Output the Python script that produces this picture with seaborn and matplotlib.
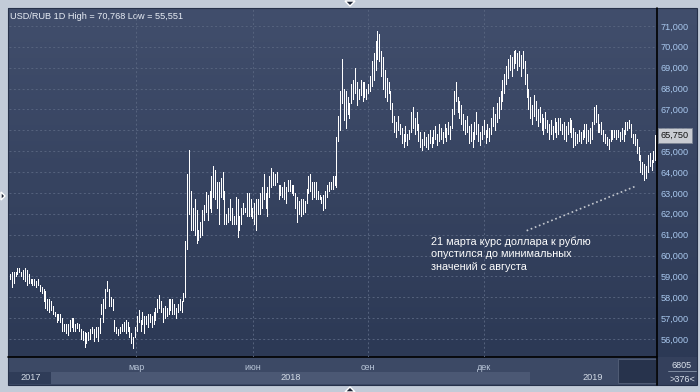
import numpy as np
import pandas as pd
import seaborn as sns
import matplotlib.pyplot as plt
from matplotlib.colors import LinearSegmentedColormap
from matplotlib.patches import Rectangle, Polygon
import matplotlib.transforms as mtransforms

# Daily USD/RUB bars (low / high), Dec 2017 - Apr 2019
lows = [
    58.9, 58.5, 58.7, 59.0, 59.1, 59.2, 59.0, 58.9, 58.8, 58.6,
    58.7, 58.7, 58.6, 58.6, 58.5, 58.6, 58.3, 58.2, 57.8, 57.5,
    57.4, 57.3, 57.4, 57.2, 57.1, 56.8, 56.9, 56.8, 56.4, 56.4,
    56.3, 56.2, 56.4, 56.6, 56.4, 56.4, 56.55, 56.4, 56.0, 55.95,
    55.6, 55.8, 55.95, 56.0, 56.3, 55.9, 56.1, 55.9, 56.3, 57.2,
    56.8, 57.5, 58.3, 57.6, 57.6, 57.4, 56.4, 56.3, 56.2, 56.3,
    56.4, 56.4, 56.3, 56.4, 56.1, 55.8, 55.551, 56.1, 56.4, 56.8,
    56.4, 56.7, 56.3, 56.7, 56.6, 56.8, 56.6, 56.7, 56.9, 57.3,
    57.5, 57.3, 56.8, 57.0, 57.1, 57.2, 57.4, 57.2, 57.2, 57.0,
    57.3, 57.4, 57.3, 57.8, 58.0, 60.3, 62.0, 61.2, 61.2, 61.0,
    60.6, 60.75, 60.9, 61.0, 61.7, 62.1, 61.7, 62.3, 62.1, 62.8,
    62.7, 62.3, 61.5, 62.8, 62.7, 61.5, 61.5, 61.6, 61.7, 61.5,
    61.5, 61.5, 60.9, 61.2, 61.5, 62.0, 62.1, 61.9, 61.9, 61.9,
    61.8, 61.5, 61.2, 62.0, 62.0, 62.3, 62.7, 62.3, 61.9, 62.8,
    63.3, 63.4, 63.4, 63.5, 62.7, 62.9, 62.8, 62.7, 62.5, 63.1,
    63.1, 63.0, 62.9, 62.3, 61.6, 62.0, 61.9, 62.0, 62.1, 62.5,
    63.0, 63.1, 62.7, 62.8, 62.7, 62.7, 62.7, 62.5, 62.2, 62.3,
    62.8, 63.1, 63.2, 63.2, 63.4, 63.3, 65.5, 66.0, 67.3, 66.5,
    66.1, 66.8, 66.6, 67.3, 67.5, 67.8, 67.2, 67.5, 67.7, 67.4,
    67.6, 67.5, 67.8, 67.9, 68.1, 68.4, 68.9, 69.4, 69.3, 68.6,
    68.0, 67.6, 67.4, 67.8, 67.0, 66.4, 65.9, 65.7, 66.0, 65.8,
    65.4, 65.2, 65.5, 65.3, 65.6, 65.9, 66.1, 65.8, 66.0, 65.5,
    65.2, 65.05, 65.3, 65.2, 65.1, 65.4, 65.2, 65.4, 65.6, 65.3,
    65.5, 65.6, 65.4, 65.7, 65.5, 65.8, 65.6, 66.1, 66.8, 67.4,
    66.9, 66.6, 66.3, 66.0, 65.8, 65.9, 65.4, 65.5, 65.2, 65.6,
    65.8, 65.5, 65.3, 65.6, 65.8, 65.4, 65.7, 65.5, 65.8, 66.2,
    66.0, 66.4, 66.6, 67.0, 67.4, 67.8, 68.2, 68.5, 68.9, 68.6,
    69.0, 69.2, 68.9, 69.1, 68.6, 69.0, 68.2, 67.6, 67.0, 66.6,
    66.3, 66.7, 66.5, 66.2, 66.4, 66.0, 65.8, 66.1, 65.9, 65.6,
    65.8, 65.6, 65.9, 65.7, 65.8, 66.0, 65.8, 65.6, 65.5, 65.8,
    65.9, 65.7, 65.2, 65.3, 65.4, 65.5, 65.4, 65.6, 65.7, 65.4,
    65.5, 65.4, 65.6, 66.3, 66.4, 65.9, 65.9, 65.8, 65.5, 65.4,
    65.3, 65.1, 65.5, 65.6, 65.7, 65.6, 65.7, 65.5, 65.6, 65.5,
    65.8, 66.0, 66.1, 65.7, 65.4, 65.3, 64.9, 64.6, 64.0, 63.9,
    63.6, 63.7, 64.0, 64.3, 64.1, 64.5, 64.6,
]
highs = [
    59.1, 59.2, 59.2, 59.2, 59.4, 59.4, 59.2, 59.3, 59.4, 59.3,
    59.1, 58.9, 58.9, 58.9, 58.8, 58.9, 58.6, 58.5, 58.4, 58.3,
    57.9, 57.9, 57.8, 57.6, 57.3, 57.2, 57.2, 57.2, 57.0, 56.7,
    56.7, 56.7, 56.9, 57.0, 57.0, 56.7, 56.75, 56.7, 56.5, 56.4,
    56.35, 56.3, 56.35, 56.5, 56.6, 56.5, 56.6, 56.6, 57.0, 57.7,
    57.9, 58.4, 58.8, 58.4, 58.0, 57.9, 56.9, 56.6, 56.5, 56.6,
    56.7, 56.8, 56.9, 56.8, 56.6, 56.3, 56.1, 56.6, 57.1, 57.4,
    56.9, 57.3, 57.1, 57.1, 57.2, 57.2, 57.1, 57.3, 57.5, 57.9,
    58.1, 57.8, 57.5, 57.6, 57.5, 57.9, 57.9, 57.9, 57.7, 57.5,
    57.7, 57.9, 57.8, 58.2, 60.7, 63.9, 65.05, 63.1, 62.3, 62.7,
    62.2, 61.2, 61.6, 62.2, 62.4, 63.06, 62.9, 63.1, 63.8, 64.3,
    64.1, 63.5, 63.5, 63.7, 64.0, 63.1, 62.0, 62.3, 62.7, 62.3,
    61.9, 62.8, 62.7, 61.9, 62.3, 62.5, 62.3, 63.0, 63.0, 62.7,
    62.3, 62.5, 62.7, 62.7, 63.0, 63.3, 63.9, 63.0, 63.3, 63.8,
    64.2, 64.0, 63.9, 64.0, 63.4, 63.4, 63.3, 63.5, 63.3, 63.6,
    63.6, 63.4, 63.4, 63.0, 62.8, 62.6, 62.7, 62.7, 62.6, 63.2,
    63.8, 63.9, 63.5, 63.5, 63.5, 63.1, 62.9, 62.8, 62.9, 63.1,
    63.4, 63.5, 63.5, 63.8, 63.8, 65.7, 66.7, 67.9, 69.4, 68.0,
    67.9, 67.6, 67.3, 68.2, 68.4, 69.0, 68.3, 68.0, 68.4, 68.3,
    68.3, 68.0, 68.2, 68.6, 69.3, 69.7, 70.3, 70.768, 70.6, 69.8,
    69.5, 68.9, 68.5, 68.3, 67.9, 67.3, 66.7, 66.4, 66.7, 66.3,
    66.1, 65.8, 66.2, 65.8, 66.0, 66.9, 67.1, 66.6, 66.9, 66.3,
    65.9, 65.6, 65.9, 65.7, 65.8, 66.0, 65.7, 66.0, 66.2, 65.8,
    66.3, 66.1, 65.9, 66.3, 66.1, 66.4, 66.2, 67.0, 67.9, 68.3,
    67.6, 67.4, 67.2, 66.8, 66.5, 66.7, 66.2, 66.3, 65.9, 66.4,
    66.9, 66.3, 65.9, 66.2, 66.5, 66.0, 66.3, 66.1, 66.6, 67.1,
    66.8, 67.3, 67.6, 67.9, 68.4, 68.7, 69.1, 69.4, 69.6, 69.5,
    69.8, 69.85, 69.7, 69.8, 69.6, 69.8, 69.3, 68.7, 68.0, 67.6,
    67.2, 67.7, 67.4, 67.0, 67.1, 66.8, 66.6, 66.9, 66.5, 66.3,
    66.5, 66.2, 66.6, 66.4, 66.6, 66.6, 66.3, 66.4, 66.2, 66.4,
    66.6, 66.5, 66.1, 65.9, 65.8, 66.0, 65.9, 66.0, 66.3, 66.3,
    66.0, 66.1, 66.4, 67.1, 67.2, 66.8, 66.3, 66.4, 66.0, 65.8,
    65.7, 65.6, 66.0, 66.0, 66.0, 66.0, 66.0, 65.9, 66.1, 66.0,
    66.4, 66.4, 66.5, 66.3, 65.8, 65.8, 65.6, 65.2, 64.8, 64.5,
    64.4, 64.3, 64.8, 64.9, 64.6, 65.0, 65.76,
]

price_ticks = list(range(56, 72))
month_labels = ["мар", "июн", "сен", "дек"]
month_bars = [67.6, 130.3, 192.0, 254.2]      # bar index where each month starts
year_labels = ["2017", "2018", "2019"]
year_label_bars = [11.0, 150.7, 312.6]
year_2018 = (22.0, 278.8)                     # first / last bar of 2018
last_price = 65.75
title = "USD/RUB 1D High = 70,768 Low = 55,551"
note = "21 марта курс доллара к рублю\nопустился до минимальных\nзначений с августа"
note_xy = (225.7, 60.93)
leader = ([277.0, 335.7], [61.19, 63.33])

sns.set_style("dark")
plt.rcParams['font.family'] = ['Liberation Sans', 'DejaVu Sans']

W, H = 700, 392
fig = plt.figure(figsize=(7, 3.92), dpi=100)
fig.patch.set_facecolor('#c2cbd8')

# frame drawn in pixel coordinates
bg = fig.add_axes([0, 0, 1, 1])
grad = LinearSegmentedColormap.from_list('bg', ['#414e6c', '#2c3955'])
bg.imshow(np.linspace(0, 1, 256).reshape(-1, 1), cmap=grad,
          extent=[8, 697, 357, 8], aspect='auto', zorder=0)
bg.add_patch(Rectangle((8, 357), 649, 28, fc='#3c4965', ec='none'))
bg.add_patch(Rectangle((657, 357), 40, 28, fc='#34405c', ec='none'))
bg.add_patch(Rectangle((8, 8), 689, 377, fc='none', ec='#26314a', lw=0.8))
bg.plot([657, 657], [8, 385], color='black', lw=1.2)
bg.plot([8, 657], [357, 357], color='black', lw=1.2)
bg.add_patch(Rectangle((618, 359), 38, 24, fc='#27334c', ec='#56627a', lw=0.6))
bg.plot([668, 696], [371, 371], color='#8a97ab', lw=0.6)
bg.text(682, 365, "6805", color='#dde4ee', fontsize=6.5, ha='center', va='center')
bg.text(682, 379, ">376<", color='#dde4ee', fontsize=6.5, ha='center', va='center')
bg.add_patch(Polygon([(345, 1), (355, 1), (350, 6)], fc='#1c2536'))
bg.add_patch(Polygon([(345, 392), (355, 392), (350, 387)], fc='#1c2536'))
bg.add_patch(Polygon([(1, 192), (1, 200), (5, 196)], fc='#1c2536'))
bg.text(10, 16, title, color='#e8edf5', fontsize=6.6, va='center', ha='left')
bg.set_xlim(0, W)
bg.set_ylim(H, 0)
bg.axis('off')

# main chart
ax = fig.add_axes([9 / W, 35 / H, 648 / W, 348 / H])
ax.set_facecolor('none')

n = len(lows)
bars = pd.DataFrame({
    'bar': np.repeat(np.arange(n), 2),
    'price': np.column_stack([lows, highs]).ravel(),
})
sns.lineplot(data=bars, x='bar', y='price', units='bar', estimator=None,
             sort=False, color='white', lw=0.6, ax=ax, legend=False)
for line in ax.lines:
    line.set_antialiased(False)
    line.set_solid_capstyle('butt')

ax.set_xlim(-0.54, 346.9)
ax.set_ylim(55.14, 71.81)
ax.set_xlabel('')
ax.set_ylabel('')
for s in ax.spines.values():
    s.set_visible(False)

ax.grid(True, color='#56637e', ls=(0, (2, 2.5)), lw=0.7)
ax.set_axisbelow(True)
ax.set_xticks(month_bars, month_labels)
ax.tick_params(axis='x', length=0, pad=4, labelsize=6.5, labelcolor='#b9c6d8')
ax.yaxis.tick_right()
ax.set_yticks(price_ticks, [f"{v:.3f}".replace('.', ',') for v in price_ticks])
ax.tick_params(axis='y', length=0, pad=2.5, labelsize=6.6, labelcolor='#a9c8ee')

# year band under the month labels
xt = ax.get_xaxis_transform()
fy = lambda py: (357 - py) / 348
ax.add_patch(Rectangle((-0.54, fy(384)), year_2018[0] + 0.54, fy(372) - fy(384),
                       transform=xt, clip_on=False, fc='#2f3c58', ec='none'))
ax.add_patch(Rectangle((year_2018[0], fy(384)), year_2018[1] - year_2018[0], fy(372) - fy(384),
                       transform=xt, clip_on=False, fc='#4b5874', ec='none'))
for lab, xb in zip(year_labels, year_label_bars):
    ax.text(xb, fy(378), lab, transform=xt, ha='center', va='center',
            fontsize=6.6, color='#d3dbe6', clip_on=False)

# last price marker, drawn over the 66,000 tick label as in the terminal
yt = mtransforms.blended_transform_factory(ax.transAxes, ax.transData)
ax.text(1.006, last_price, f"{last_price:.3f}".replace('.', ','), transform=yt,
        fontsize=6.6, color='#111111', ha='left', va='center', zorder=10,
        bbox=dict(boxstyle='square,pad=0.3', fc='#c9ccd2', ec='#7d8594', lw=0.6))

# annotation
ax.plot(*leader, ls=':', color='#c5c9d0', lw=1.2)
ax.text(*note_xy, note, color='white', fontsize=7.8, va='top', ha='left', linespacing=1.32)

fig.savefig('out.png', dpi=100, facecolor=fig.get_facecolor())
